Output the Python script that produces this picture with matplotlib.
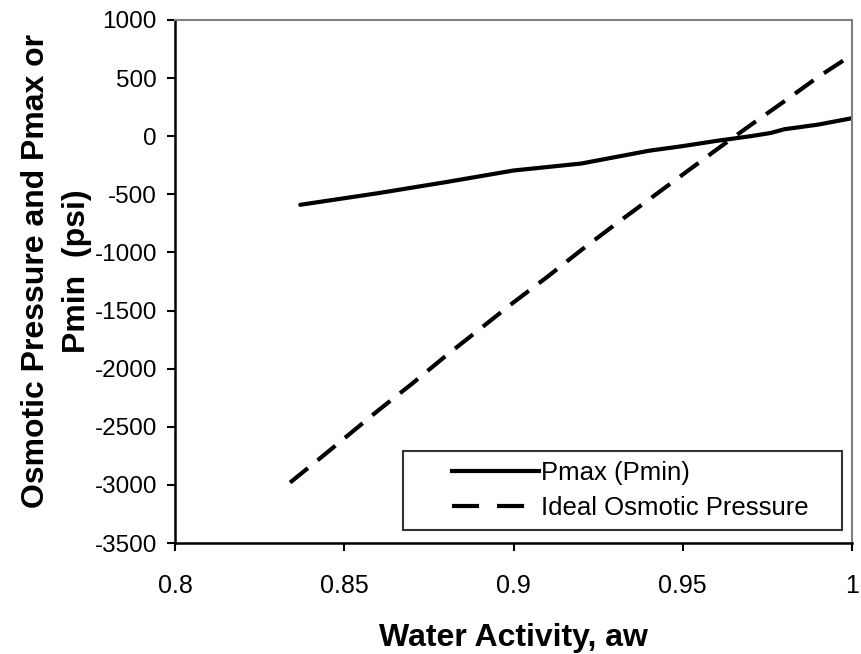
import matplotlib.pyplot as plt
from matplotlib.lines import Line2D
from matplotlib.legend_handler import HandlerLine2D

plt.rcParams['font.family'] = ['Liberation Sans', 'DejaVu Sans']
plt.rcParams['axes.unicode_minus'] = False

# Pmax (Pmin) curve
aw_pmax = [0.837, 0.86, 0.88, 0.90, 0.92, 0.94, 0.95, 0.96, 0.97, 0.976, 0.98, 0.99, 1.0]
pmax = [-590, -490, -395, -295, -235, -125, -85, -40, 0, 28, 60, 100, 155]

# Ideal osmotic pressure curve
aw_ideal = [0.834, 0.845, 0.86, 0.87, 0.88, 0.89, 0.90, 0.91, 0.92, 0.93,
            0.94, 0.95, 0.96, 0.97, 0.98, 0.99, 1.0]
ideal = [-2980, -2720, -2360, -2130, -1890, -1660, -1430, -1210, -980, -760,
         -545, -330, -115, 95, 300, 510, 700]

xticks = [0.8, 0.85, 0.9, 0.95, 1.0]
xticklabels = ['0.8', '0.85', '0.9', '0.95', '1']
yticks = [-3500, -3000, -2500, -2000, -1500, -1000, -500, 0, 500, 1000]
labels = ['Pmax (Pmin)', 'Ideal Osmotic Pressure']

fig = plt.figure(figsize=(8.62, 6.54), dpi=100)
ax = fig.add_axes([175 / 862, 1 - 543 / 654, 677 / 862, 523 / 654])

ax.plot(aw_pmax, pmax, color='black', lw=3, solid_capstyle='round')
ax.plot(aw_ideal, ideal, color='black', lw=3, dashes=[5.5, 3])

ax.set_xlim(0.8, 1.0)
ax.set_ylim(-3500, 1000)
ax.set_xticks(xticks)
ax.set_xticklabels(xticklabels)
ax.set_yticks(yticks)
ax.tick_params(direction='out', length=6, width=1.5, labelsize=18, colors='black')
ax.tick_params(axis='x', pad=16)
ax.tick_params(axis='y', pad=7, labelsize=17.5)

for side in ['left', 'bottom']:
    ax.spines[side].set_color('black')
    ax.spines[side].set_linewidth(1.8)
for side in ['top', 'right']:
    ax.spines[side].set_color('#808080')
    ax.spines[side].set_linewidth(1.5)

ax.set_xlabel('Water Activity, aw', fontsize=23, fontweight='bold', labelpad=18)
ax.set_ylabel('Osmotic Pressure and Pmax or\nPmin  (psi)', fontsize=23,
              fontweight='bold', linespacing=1.5, va='center', ha='center')
ax.yaxis.set_label_coords(-0.175, 0.52)

# legend handles: solid line and two long dashes
h1 = Line2D([], [], color='black', lw=3)
h2 = Line2D([], [], color='black', lw=3, dashes=[6.5, 4.3])
leg = ax.legend([h1, h2], labels, loc='lower left',
                bbox_to_anchor=(0.337, 0.025, 0.648, 0.151),
                mode='expand', borderaxespad=0, fontsize=18.5, frameon=True,
                fancybox=False, handlelength=4.9, handletextpad=0.05,
                labelspacing=0.4, borderpad=0.4,
                handler_map={Line2D: HandlerLine2D(xpad=1.5)})
leg.get_frame().set_edgecolor('black')
leg.get_frame().set_linewidth(1.5)

fig.savefig('out.png', dpi=100)
